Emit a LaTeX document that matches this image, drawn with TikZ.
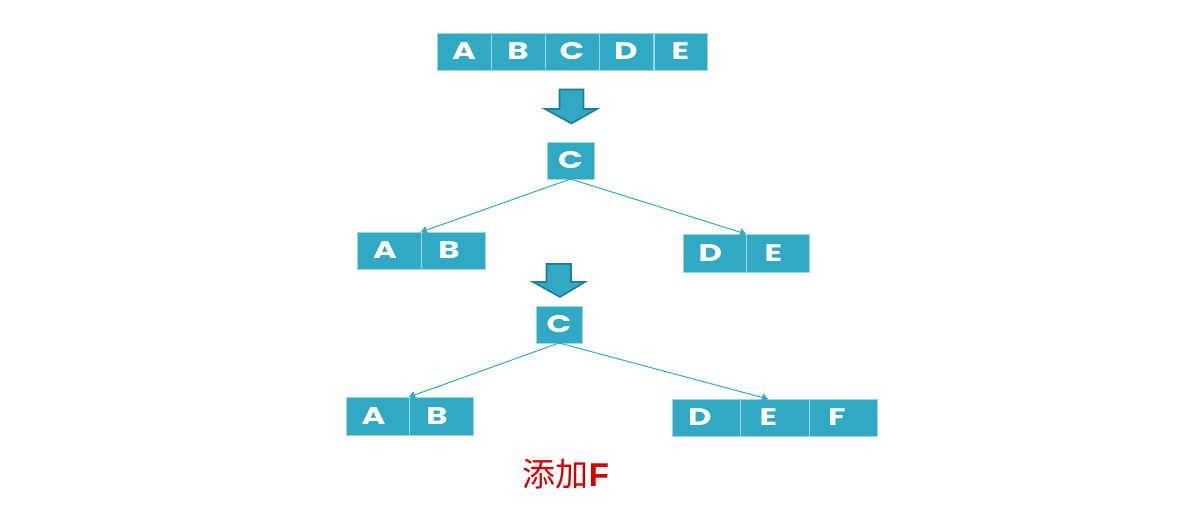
\documentclass[tikz,border=0pt]{standalone}
\usepackage{fontspec}
\setmainfont{Poppins}
\newfontfamily\cjkfont{Noto Sans CJK SC}
\newfontfamily\arialfont{Liberation Sans}
\usetikzlibrary{arrows.meta}
\definecolor{cellblue}{HTML}{31A8C4}
\definecolor{celledge}{HTML}{9AD6E4}
\definecolor{arrowedge}{HTML}{1F7C93}
\definecolor{labelred}{HTML}{D40000}
\newcommand\cellletter[1]{\scalebox{1.35}[1]{#1}}
\tikzset{
  cell/.style={draw=celledge, line width=0.8pt, fill=cellblue, inner sep=0pt, outer sep=0pt,
    text=white, font=\bfseries\fontsize{24}{24}\selectfont, anchor=north west},
  conn/.style={draw=cellblue, line width=1pt, -{Triangle[length=6pt,width=8pt]}},
  bigarrow/.style={fill=cellblue, draw=arrowedge, line width=1.6pt, line join=miter},
}
\begin{document}
\begin{tikzpicture}[x=1pt,y=-1pt]
\path[use as bounding box] (0,0) rectangle (1199,516);
% top row
\node[cell, minimum width=54pt, minimum height=37pt] (t1) at (437,33) {\cellletter{A}};
\node[cell, minimum width=54pt, minimum height=37pt] (t2) at (491,33) {\cellletter{B}};
\node[cell, minimum width=54pt, minimum height=37pt] (t3) at (545,33) {\cellletter{C}};
\node[cell, minimum width=54pt, minimum height=37pt] (t4) at (599,33) {\cellletter{D}};
\node[cell, minimum width=53pt, minimum height=37pt] (t5) at (654,33) {\cellletter{E}};
% arrow 1
\draw[bigarrow] (559.5,89.5) -- (583.5,89.5) -- (583.5,109) -- (597,109) -- (571.5,123.5)
  -- (545,109) -- (559.5,109) -- cycle;
% level 1
\node[cell, minimum width=47pt, minimum height=37pt] (c1) at (547,142) {\cellletter{C}};
\node[cell, minimum width=64pt, minimum height=37pt] (a1) at (357,232) {\kern-8pt\cellletter{A}};
\node[cell, minimum width=64pt, minimum height=37pt] (b1) at (421,232) {\kern-8pt\cellletter{B}};
\node[cell, minimum width=63pt, minimum height=38pt] (d1) at (683,234) {\kern-8pt\cellletter{D}};
\node[cell, minimum width=63pt, minimum height=38pt] (e1) at (746,234) {\kern-8pt\cellletter{E}};
\draw[conn] (c1.south) -- (a1.north east);
\draw[conn] (c1.south) -- (d1.north east);
% arrow 2
\draw[bigarrow] (546.5,264) -- (571,264) -- (571,282) -- (585,282) -- (560,297)
  -- (533,282) -- (546.5,282) -- cycle;
% level 2
\node[cell, minimum width=46pt, minimum height=37pt] (c2) at (536,306) {\cellletter{C}};
\node[cell, minimum width=63pt, minimum height=38pt] (a2) at (346,397) {\kern-8pt\cellletter{A}};
\node[cell, minimum width=64pt, minimum height=38pt] (b2) at (409,397) {\kern-8pt\cellletter{B}};
\node[cell, minimum width=68pt, minimum height=37pt] (d2) at (672,399) {\kern-12pt\cellletter{D}};
\node[cell, minimum width=69pt, minimum height=37pt] (e2) at (740,399) {\kern-12pt\cellletter{E}};
\node[cell, minimum width=68pt, minimum height=37pt] (f2) at (809,399) {\kern-12pt\cellletter{F}};
\coordinate (e2tip) at (768,399);
\draw[conn] (c2.south) -- (a2.north east);
\draw[conn] (c2.south) -- (e2tip);
% caption
\node[text=labelred, inner sep=0pt] (cap) at (566,474)
  {{\cjkfont\fontsize{33}{33}\selectfont 添加}{\arialfont\bfseries\fontsize{33}{33}\selectfont F}};
\end{tikzpicture}
\end{document}
